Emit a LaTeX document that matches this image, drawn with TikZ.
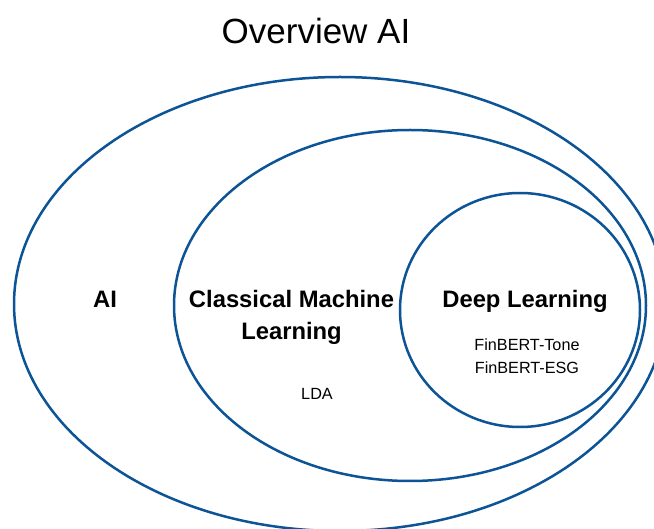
\documentclass[tikz,border=0pt]{standalone}
\usepackage{fontspec}
\setmainfont{Liberation Sans}
\definecolor{ringblue}{RGB}{12,84,150}
\tikzset{
  ring/.style={draw=ringblue, line width=2.5pt},
  bigbold/.style={font=\fontsize{23.8}{32}\selectfont\bfseries, anchor=base, inner sep=0pt, align=center},
  smalltxt/.style={font=\fontsize{16.2}{23}\selectfont, anchor=base, inner sep=0pt},
}
\begin{document}
\begin{tikzpicture}[x=1pt,y=-1pt]
\useasboundingbox (0,0) rectangle (654,529);
\clip (0,0) rectangle (654,529);
\fill[white] (0,0) rectangle (654,529);
% rings
\draw[ring] (340,304) ellipse [x radius=326, y radius=227];
\draw[ring] (410,305.5) ellipse [x radius=236, y radius=175.5];
\draw[ring] (520,310) ellipse [x radius=120, y radius=117];
% texts
\node[font=\fontsize{35}{40}\selectfont, anchor=base, inner sep=0pt] (title) at (316,43.5) {Overview AI};
\node[bigbold] (ai) at (105,307.5) {AI};
\node[bigbold] (cml1) at (291.5,307.5) {Classical Machine};
\node[bigbold] (cml2) at (291.5,339.5) {Learning};
\node[bigbold] (dl) at (525,307.5) {Deep Learning};
\node[smalltxt] (lda) at (317,399.5) {LDA};
\node[smalltxt] (tone) at (527,350.7) {FinBERT-Tone};
\node[smalltxt] (esg) at (527,373.7) {FinBERT-ESG};
\end{tikzpicture}
\end{document}
